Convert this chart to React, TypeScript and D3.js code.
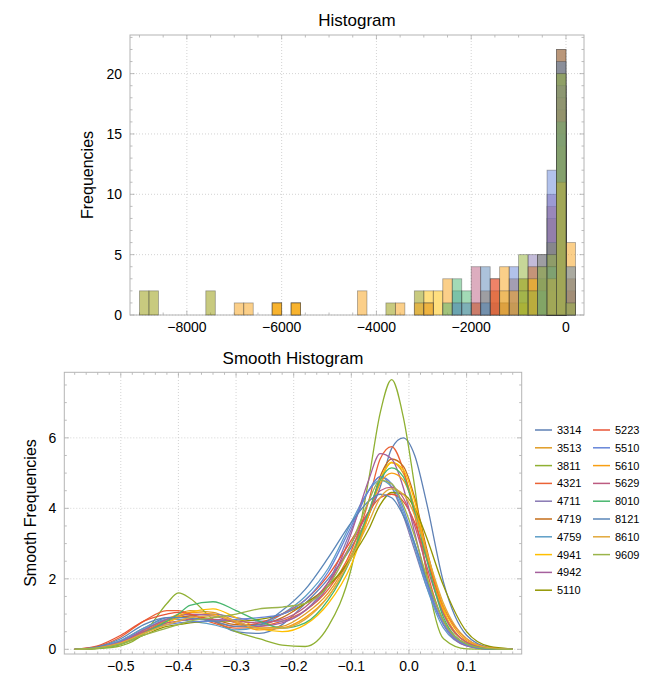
import { useEffect, useRef } from "react";
import * as d3 from "d3";

const names = ["3314", "3513", "3811", "4321", "4711", "4719", "4759", "4941", "4942", "5110", "5223", "5510", "5610", "5629", "8010", "8121", "8610", "9609"];
const colors = ["#5e81b5", "#e19c24", "#8fb032", "#eb6235", "#8778b3", "#c56e1a", "#5d9ec7", "#ffbf00", "#a5609d", "#929600", "#e95536", "#6685d9", "#f89f13", "#bc5b80", "#47b66d", "#5a86b8", "#e2a83a", "#9ab44a"];

// histogram: [bin start, count], bins 200 wide
const h3314 = [[-1800, 1], [-1600, 1], [-1400, 1], [-400, 5], [-200, 22]];
const h3513 = [[-6200, 1], [-5800, 1], [-2000, 1], [-400, 2], [-200, 18]];
const h3811 = [[-1200, 1], [-1000, 5], [-800, 2], [-600, 4], [-400, 5], [-200, 20]];
const h4321 = [[-1600, 3], [-400, 9], [-200, 17], [0, 2]];
const h4711 = [[-800, 5], [-400, 4], [-200, 19]];
const h4719 = [[-2000, 1], [-1800, 2], [-1600, 2], [-1400, 1], [-1200, 3], [-800, 4], [-600, 5], [-400, 8], [-200, 22], [0, 3]];
const h4759 = [[-2400, 2], [-1800, 1], [-400, 3], [-200, 16]];
const h4941 = [[-6200, 1], [-5800, 1], [-3000, 2], [-2800, 2], [-1000, 1], [-800, 3], [-400, 3], [-200, 15]];
const h4942 = [[-400, 10], [-200, 19]];
const h5110 = [[-9000, 2], [-8800, 2], [-7600, 2], [-3800, 1], [-3200, 2], [-1000, 3], [-600, 3], [-400, 6], [-200, 14]];
const h5223 = [[-1600, 3], [-400, 4], [-200, 17]];
const h5510 = [[-1200, 4], [-400, 12], [-200, 15]];
const h5610 = [[-7000, 1], [-6800, 1], [-6200, 1], [-5800, 1], [-4400, 2], [-3600, 1], [-3200, 1], [-3000, 1], [-2600, 3], [-1400, 4], [-1200, 2], [-400, 2], [-200, 14], [0, 6]];
const h5629 = [[-2000, 4], [-400, 3], [-200, 18]];
const h8010 = [[-2600, 1], [-2400, 3], [-2200, 2], [-600, 2], [-400, 4], [-200, 16]];
const h8121 = [[-2400, 1], [-2200, 1], [-1800, 4], [-600, 5], [-400, 4], [-200, 21], [0, 4]];
const h8610 = [[-3000, 1], [-1400, 2], [-400, 3], [-200, 11]];
const h9609 = [[-1000, 2], [-800, 2], [-600, 4], [-400, 5], [-200, 20], [0, 1]];
const histCounts = [h3314, h3513, h3811, h4321, h4711, h4719, h4759, h4941, h4942, h5110, h5223, h5510, h5610, h5629, h8010, h8121, h8610, h9609];
const binWidth = 200;

// smooth histogram, values read at these x positions
const smoothX = [-0.58, -0.54, -0.5, -0.46, -0.42, -0.4, -0.38, -0.34, -0.3, -0.26, -0.22, -0.18, -0.14, -0.1, -0.07, -0.05, -0.03, -0.01, 0.01, 0.03, 0.06, 0.1, 0.14, 0.18];
const s3314 = [0, 0.06, 0.25, 0.6, 0.9, 0.92, 0.9, 0.8, 0.5, 0.45, 0.7, 1.3, 2.0, 2.9, 3.8, 4.6, 5.7, 6.0, 5.5, 4.2, 1.9, 0.4, 0.05, 0];
const s3513 = [0, 0.04, 0.18, 0.5, 0.85, 1.0, 1.1, 1.05, 0.8, 0.6, 0.65, 1.0, 1.6, 2.7, 3.9, 4.8, 5.3, 5.0, 4.0, 2.7, 1.0, 0.2, 0.02, 0];
const s3811 = [0, 0.02, 0.1, 0.45, 1.3, 1.6, 1.45, 0.85, 0.5, 0.3, 0.12, 0.08, 0.65, 2.3, 4.8, 6.7, 7.65, 6.6, 4.6, 2.2, 0.3, 0.01, 0, 0];
const s4321 = [0, 0.08, 0.35, 0.8, 1.1, 1.1, 1.0, 0.75, 0.6, 0.65, 0.8, 1.1, 1.7, 2.8, 4.2, 5.4, 5.75, 5.1, 3.8, 2.3, 0.8, 0.15, 0.02, 0];
const s4711 = [0, 0.05, 0.2, 0.55, 0.85, 0.9, 0.95, 1.0, 0.9, 0.8, 0.8, 1.1, 1.9, 3.4, 4.5, 4.9, 4.6, 3.8, 2.8, 1.8, 0.7, 0.12, 0.01, 0];
const s4719 = [0, 0.04, 0.2, 0.5, 0.8, 0.9, 0.95, 0.85, 0.7, 0.7, 0.9, 1.3, 1.8, 2.6, 3.8, 4.9, 5.4, 5.2, 4.3, 2.9, 1.1, 0.2, 0.02, 0];
const s4759 = [0, 0.06, 0.25, 0.6, 0.85, 0.85, 0.8, 0.7, 0.55, 0.65, 1.0, 1.5, 2.3, 3.6, 4.5, 4.8, 4.6, 3.9, 2.9, 1.8, 0.6, 0.1, 0.01, 0];
const s4941 = [0, 0.03, 0.15, 0.45, 0.75, 0.9, 1.05, 1.15, 0.9, 0.6, 0.5, 0.7, 1.3, 2.4, 3.8, 4.8, 5.3, 5.1, 4.2, 2.8, 1.1, 0.2, 0.02, 0];
const s4942 = [0, 0.05, 0.22, 0.55, 0.85, 0.95, 1.0, 0.95, 0.75, 0.65, 0.75, 1.1, 1.8, 3.3, 4.8, 5.55, 5.4, 4.6, 3.3, 2.0, 0.7, 0.1, 0.01, 0];
const s5110 = [0, 0.03, 0.15, 0.4, 0.65, 0.7, 0.75, 0.8, 0.8, 0.85, 1.0, 1.3, 1.8, 2.6, 3.4, 4.1, 4.45, 4.4, 4.0, 3.2, 1.8, 0.5, 0.08, 0.01];
const s5223 = [0, 0.1, 0.4, 0.8, 1.0, 1.05, 1.0, 0.8, 0.65, 0.75, 1.0, 1.4, 2.1, 3.1, 3.9, 4.3, 4.4, 4.2, 3.6, 2.6, 1.2, 0.3, 0.04, 0];
const s5510 = [0, 0.05, 0.22, 0.5, 0.7, 0.75, 0.78, 0.8, 0.85, 0.9, 1.0, 1.4, 2.2, 3.5, 4.5, 4.9, 4.7, 4.0, 3.0, 1.9, 0.7, 0.12, 0.01, 0];
const s5610 = [0, 0.04, 0.18, 0.5, 0.8, 0.95, 1.05, 1.0, 0.75, 0.55, 0.6, 0.9, 1.5, 2.6, 3.8, 4.7, 5.0, 4.8, 4.0, 2.8, 1.2, 0.25, 0.03, 0];
const s5629 = [0, 0.05, 0.2, 0.5, 0.75, 0.8, 0.85, 0.85, 0.8, 0.75, 0.85, 1.2, 1.9, 3.0, 3.9, 4.5, 4.6, 4.3, 3.5, 2.4, 1.0, 0.2, 0.02, 0];
const s8010 = [0, 0.03, 0.15, 0.45, 0.8, 1.0, 1.25, 1.35, 1.1, 0.8, 0.6, 0.75, 1.4, 2.6, 3.9, 4.8, 5.15, 4.9, 3.9, 2.6, 0.9, 0.15, 0.01, 0];
const s8121 = [0, 0.07, 0.3, 0.7, 0.9, 0.9, 0.88, 0.8, 0.65, 0.7, 1.1, 1.7, 2.6, 3.6, 4.2, 4.4, 4.3, 3.8, 3.0, 2.0, 0.8, 0.15, 0.02, 0];
const s8610 = [0, 0.04, 0.18, 0.45, 0.7, 0.8, 0.9, 0.95, 0.8, 0.6, 0.6, 0.85, 1.5, 2.6, 3.6, 4.3, 4.55, 4.4, 3.8, 2.8, 1.3, 0.3, 0.04, 0];
const s9609 = [0, 0.03, 0.15, 0.4, 0.6, 0.7, 0.8, 0.9, 1.0, 1.15, 1.2, 1.3, 1.8, 3.0, 4.2, 4.8, 4.7, 4.1, 3.2, 2.1, 0.8, 0.15, 0.02, 0];
const smoothY = [s3314, s3513, s3811, s4321, s4711, s4719, s4759, s4941, s4942, s5110, s5223, s5510, s5610, s5629, s8010, s8121, s8610, s9609];

const histXTicks = [-8000, -6000, -4000, -2000, 0];
const histYTicks = [0, 5, 10, 15, 20];
const smoothXTicks = [-0.5, -0.4, -0.3, -0.2, -0.1, 0, 0.1];
const smoothYTicks = [0, 2, 4, 6];

const FONT = "'Liberation Sans', Arial, sans-serif";

function minorValues(domain, step) {
  const lo = Math.ceil(domain[0] / step - 1e-9);
  const hi = Math.floor(domain[1] / step + 1e-9);
  return d3.range(lo, hi + 1).map((i) => i * step);
}

// Mathematica-like frame with ticks on all four sides
function drawFrame(svg, x, y, xTicks, xMinor, yTicks, yMinor, xFmt, yFmt) {
  const [x0, x1] = x.range();
  const [y0, y1] = y.range(); // y0 bottom, y1 top
  const g = svg.append("g");

  g.selectAll(".gx").data(xTicks).enter().append("line")
    .attr("x1", (d) => x(d)).attr("x2", (d) => x(d))
    .attr("y1", y0).attr("y2", y1)
    .attr("stroke", "#c8c8c8").attr("stroke-width", 0.8).attr("stroke-dasharray", "1,2");
  g.selectAll(".gy").data(yTicks).enter().append("line")
    .attr("x1", x0).attr("x2", x1)
    .attr("y1", (d) => y(d)).attr("y2", (d) => y(d))
    .attr("stroke", "#c8c8c8").attr("stroke-width", 0.8).attr("stroke-dasharray", "1,2");

  const tick = "#a0a0a0";
  const xm = minorValues(x.domain(), xMinor);
  const ym = minorValues(y.domain(), yMinor);
  const isMajor = (v, arr) => arr.some((t) => Math.abs(t - v) < 1e-9);
  xm.forEach((v) => {
    const len = isMajor(v, xTicks) ? 4.5 : 2.5;
    g.append("line").attr("x1", x(v)).attr("x2", x(v)).attr("y1", y0).attr("y2", y0 - len).attr("stroke", tick).attr("stroke-width", 0.7);
    g.append("line").attr("x1", x(v)).attr("x2", x(v)).attr("y1", y1).attr("y2", y1 + len).attr("stroke", tick).attr("stroke-width", 0.7);
  });
  ym.forEach((v) => {
    const len = isMajor(v, yTicks) ? 4.5 : 2.5;
    g.append("line").attr("x1", x0).attr("x2", x0 + len).attr("y1", y(v)).attr("y2", y(v)).attr("stroke", tick).attr("stroke-width", 0.7);
    g.append("line").attr("x1", x1).attr("x2", x1 - len).attr("y1", y(v)).attr("y2", y(v)).attr("stroke", tick).attr("stroke-width", 0.7);
  });

  g.append("rect").attr("x", x0).attr("y", y1).attr("width", x1 - x0).attr("height", y0 - y1)
    .attr("fill", "none").attr("stroke", "#b4b4b4").attr("stroke-width", 1);

  g.selectAll(".lx").data(xTicks).enter().append("text")
    .attr("x", (d) => x(d)).attr("y", y0 + 17)
    .attr("text-anchor", "middle").style("font-family", FONT).style("font-size", "14px")
    .text(xFmt);
  g.selectAll(".ly").data(yTicks).enter().append("text")
    .attr("x", x0 - 8).attr("y", (d) => y(d) + 5)
    .attr("text-anchor", "end").style("font-family", FONT).style("font-size", "14px")
    .text(yFmt);
  return g;
}

export default function App() {
  const ref = useRef(null);

  useEffect(() => {
    document.body.style.margin = "0";
    const container = d3.select(ref.current);
    container.selectAll("*").remove();

    const width = 646;
    const height = 674;
    const svg = container.append("svg")
      .attr("width", width).attr("height", height)
      .style("display", "block").style("background", "#fff");

    // ---- Histogram ----
    const hx = d3.scaleLinear().domain([-9200, 380]).range([130, 584]);
    const hy = d3.scaleLinear().domain([0, 23.2]).range([315, 35]);
    const intFmt = (d) => d3.format("d")(d);
    drawFrame(svg, hx, hy, histXTicks, 500, histYTicks, 1, intFmt, intFmt);

    histCounts.forEach((bins, i) => {
      svg.append("g").selectAll("rect").data(bins).enter().append("rect")
        .attr("x", (d) => hx(d[0]))
        .attr("y", (d) => hy(d[1]))
        .attr("width", (d) => hx(d[0] + binWidth) - hx(d[0]))
        .attr("height", (d) => hy(0) - hy(d[1]))
        .attr("fill", colors[i]).attr("fill-opacity", 0.5)
        .attr("stroke", "#3c3c3c").attr("stroke-opacity", 0.45).attr("stroke-width", 0.8);
    });

    svg.append("text").attr("x", 357).attr("y", 26).attr("text-anchor", "middle")
      .style("font-family", FONT).style("font-size", "17px").text("Histogram");
    svg.append("text").attr("transform", "translate(93,175) rotate(-90)").attr("text-anchor", "middle")
      .style("font-family", FONT).style("font-size", "16px").text("Frequencies");

    // ---- Smooth histogram ----
    const sx = d3.scaleLinear().domain([-0.598, 0.1956]).range([64.3, 521.7]);
    const sy = d3.scaleLinear().domain([-0.133, 7.86]).range([654, 372.3]);
    drawFrame(svg, sx, sy, smoothXTicks, 0.02, smoothYTicks, 0.5, d3.format(".1f"), d3.format("d"));

    svg.append("clipPath").attr("id", "sclip").append("rect")
      .attr("x", 64.3).attr("y", 372.3).attr("width", 521.7 - 64.3).attr("height", 654 - 372.3);
    const line = d3.line()
      .x((d, j) => sx(smoothX[j]))
      .y((d) => sy(d))
      .curve(d3.curveMonotoneX);
    const lg = svg.append("g").attr("clip-path", "url(#sclip)");
    smoothY.forEach((vals, i) => {
      lg.append("path").attr("d", line(vals)).attr("fill", "none")
        .attr("stroke", colors[i]).attr("stroke-width", 1.3);
    });

    svg.append("text").attr("x", 293).attr("y", 364).attr("text-anchor", "middle")
      .style("font-family", FONT).style("font-size", "17px").text("Smooth Histogram");
    svg.append("text").attr("transform", "translate(36,513) rotate(-90)").attr("text-anchor", "middle")
      .style("font-family", FONT).style("font-size", "16px").text("Smooth Frequencies");

    // legend
    const leg = svg.append("g");
    names.forEach((n, i) => {
      const col = i < 10 ? 0 : 1;
      const row = i < 10 ? i : i - 10;
      const lx = col === 0 ? 535 : 593;
      const ly = 430 + row * 17.8;
      leg.append("line").attr("x1", lx).attr("x2", lx + 17).attr("y1", ly).attr("y2", ly)
        .attr("stroke", colors[i]).attr("stroke-width", 1.5);
      leg.append("text").attr("x", lx + 22).attr("y", ly + 4)
        .style("font-family", FONT).style("font-size", "11px").text(n);
    });
  }, []);

  return <div ref={ref} />;
}
